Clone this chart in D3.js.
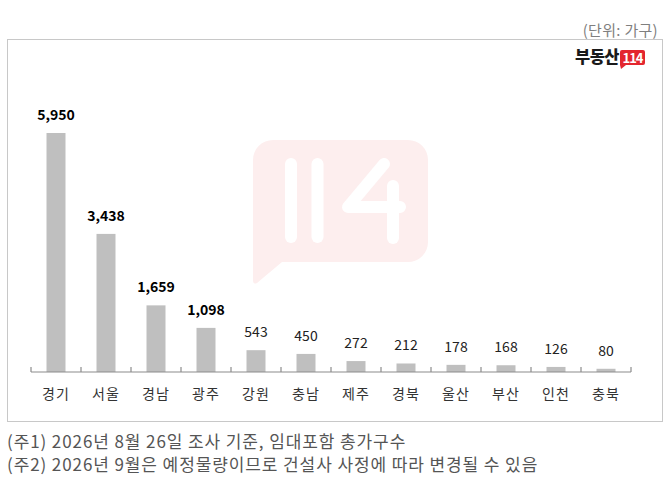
<!DOCTYPE html>
<html>
<head>
<meta charset="utf-8">
<script src="https://cdn.jsdelivr.net/npm/d3@7"></script>
<style>
html,body{margin:0;padding:0;background:#fff;}
svg{display:block;font-family:"Noto Sans CJK KR","Noto Sans",sans-serif;}
</style>
</head>
<body>
<svg id="c" width="670" height="480"></svg>
<script>
const categories = ["경기","서울","경남","광주","강원","충남","제주","경북","울산","부산","인천","충북"];
const values = [5950,3438,1659,1098,543,450,272,212,178,168,126,80];
const unitLabel = "(단위: 가구)";
const notes = ["(주1) 2026년 8월 26일 조사 기준, 임대포함 총가구수",
               "(주2) 2026년 9월은 예정물량이므로 건설사 사정에 따라 변경될 수 있음"];

const svg = d3.select("#c");

// frame
svg.append("rect").attr("x",7.5).attr("y",39.5).attr("width",655).attr("height",382)
  .attr("fill","#fff").attr("stroke","#c8c8c8").attr("stroke-width",1);

// unit label
svg.append("text").attr("x",658).attr("y",36).attr("text-anchor","end")
  .attr("font-size",15).attr("letter-spacing",0.3).attr("fill","#7f7f7f").text(unitLabel);

// watermark
const wm = svg.append("g");
{
  const x0=253,x1=428,y0=140,y1=262,r=20;
  const p=d3.path();
  p.moveTo(x0+r,y0);
  p.lineTo(x1-r,y0); p.arcTo(x1,y0,x1,y0+r,r);
  p.lineTo(x1,y1-r); p.arcTo(x1,y1,x1-r,y1,r);
  p.lineTo(282,y1);
  p.lineTo(257,283); p.quadraticCurveTo(253,285,253,280);
  p.lineTo(x0,y0+r); p.arcTo(x0,y0,x0+r,y0,r);
  p.closePath();
  wm.append("path").attr("d",p.toString()).attr("fill","#fdeeee");
  const s = {stroke:"#fff","stroke-width":12,"stroke-linecap":"round","stroke-linejoin":"round",fill:"none"};
  const lines=[[[291,164],[291,237]],[[317.5,164],[317.5,237]],[[393,186],[393,238]]];
  lines.forEach(l=>{const e=wm.append("path").attr("d",d3.line()(l));Object.entries(s).forEach(([k,v])=>e.attr(k,v));});
  const e=wm.append("path").attr("d",d3.line()([[384,164],[348,207],[400,207]]));
  Object.entries(s).forEach(([k,v])=>e.attr(k,v));
}

// logo
svg.append("text").attr("x",575).attr("y",63).attr("font-size",16.5).attr("font-weight",900)
  .attr("fill","#1a1a1a").attr("letter-spacing",-0.5).text("부동산");
{
  const lx=620,ly=50,lw=25,lh=15;
  const p=d3.path();
  p.moveTo(lx+2,ly); p.lineTo(lx+lw-2,ly); p.arcTo(lx+lw,ly,lx+lw,ly+2,2);
  p.lineTo(lx+lw,ly+lh-2); p.arcTo(lx+lw,ly+lh,lx+lw-2,ly+lh,2);
  p.lineTo(lx+6,ly+lh); p.lineTo(lx+1,ly+lh+4); p.lineTo(lx,ly+lh);
  p.lineTo(lx,ly+2); p.arcTo(lx,ly,lx+2,ly,2); p.closePath();
  svg.append("path").attr("d",p.toString()).attr("fill","#e3262f");
  svg.append("text").attr("x",lx+lw/2).attr("y",ly+12.5).attr("text-anchor","middle")
    .attr("font-size",13).attr("font-weight",700).attr("fill","#fff").attr("letter-spacing",-1).text("114");
}

// scales
const x = d3.scaleBand().domain(categories).range([31,631]).paddingInner(0.62).paddingOuter(0.31);
const step = x.step();
const y = d3.scaleLinear().domain([0,5950]).range([372,133]);

// bars
svg.append("g").selectAll("rect").data(values).join("rect")
  .attr("x",(d,i)=>x(categories[i]))
  .attr("width",x.bandwidth())
  .attr("y",d=>y(d))
  .attr("height",d=>y(0)-y(d))
  .attr("fill","#bfbfbf");

// axis
const axisG = svg.append("g").attr("transform","translate(0,372)");
axisG.append("line").attr("x1",31).attr("x2",631).attr("stroke","#8c8c8c").attr("stroke-width",1.2);
const bounds = d3.range(categories.length+1).map(i=>31+i*step);
axisG.selectAll("line.t").data(bounds).join("line").attr("class","t")
  .attr("x1",d=>d).attr("x2",d=>d).attr("y1",-5).attr("y2",0)
  .attr("stroke","#8c8c8c").attr("stroke-width",1.2);

// x labels
svg.append("g").selectAll("text").data(categories).join("text")
  .attr("x",d=>x(d)+x.bandwidth()/2).attr("y",399)
  .attr("text-anchor","middle").attr("font-size",14).attr("fill","#333")
  .attr("letter-spacing",1).text(d=>d);

// value labels
const fmt = d3.format(",");
svg.append("g").selectAll("text").data(values).join("text")
  .attr("x",(d,i)=>x(categories[i])+x.bandwidth()/2)
  .attr("y",d=>Math.min(y(d)-13, 357))
  .attr("text-anchor","middle").attr("font-size",14)
  .attr("font-weight",(d,i)=>i<4?700:400)
  .attr("fill",(d,i)=>i<4?"#000":"#222")
  .text(d=>fmt(d));

// notes
svg.append("g").selectAll("text").data(notes).join("text")
  .attr("x",7).attr("y",(d,i)=>448+i*23)
  .attr("font-size",17).attr("letter-spacing",0.9).attr("fill","#555").text(d=>d);
</script>
</body>
</html>
